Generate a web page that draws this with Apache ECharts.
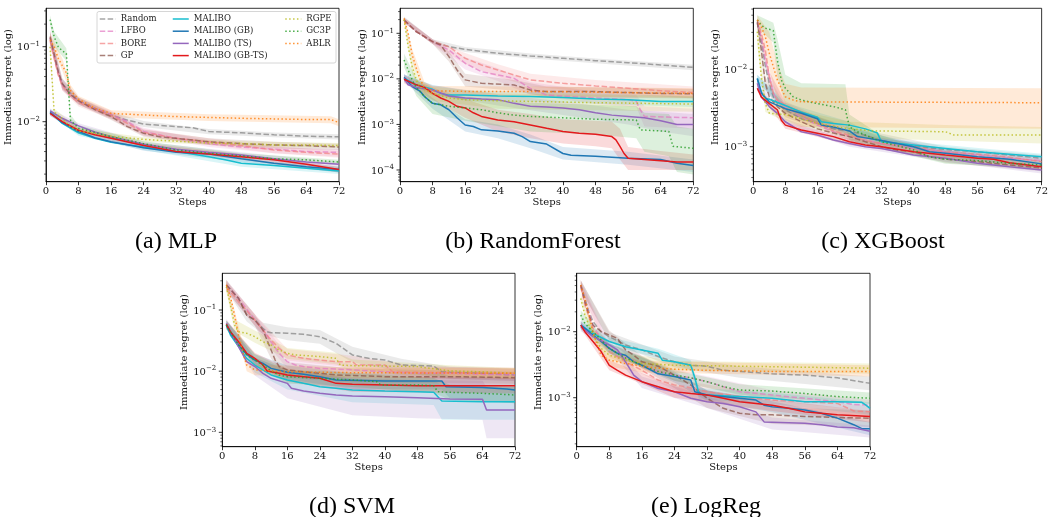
<!DOCTYPE html>
<html>
<head>
<meta charset="utf-8">
<script src="https://cdn.jsdelivr.net/npm/echarts@6/dist/echarts.min.js"></script>
<style>
  html, body { margin: 0; padding: 0; background: #ffffff; }
  #chart { width: 1051px; height: 517px; }
</style>
</head>
<body>
<div id="chart"></div>
<script>
// ---------------------------------------------------------------
// Methods, in legend order
// ---------------------------------------------------------------
const METHODS = ['Random', 'LFBO', 'BORE', 'GP', 'MALIBO', 'MALIBO (GB)', 'MALIBO (TS)', 'MALIBO (GB-TS)', 'RGPE', 'GC3P', 'ABLR'];

// Y-axis limits of each panel (immediate regret, log scale)
const YLIM_MLP = [0.001585, 0.325];
const YLIM_RF = [0.0000553, 0.354];
const YLIM_XGB = [0.000353, 0.0614];
const YLIM_SVM = [0.000582, 0.398];
const YLIM_LOGREG = [0.000181, 0.0767];

// ---------------------------------------------------------------
// (a) MLP : mean regret [step, value] and band [step, low, high]
// ---------------------------------------------------------------
const MLP_MEAN = {
  'Random': [[1,0.13],[2,0.075],[3,0.045],[4,0.032],[6,0.024],[8,0.019],[12,0.0151],[16,0.0122],[20,0.0105],[24,0.0093],[32,0.0086],[36,0.0083],[40,0.0074],[48,0.0071],[56,0.0067],[64,0.0064],[72,0.0063]],
  'LFBO': [[1,0.13],[2,0.078],[3,0.045],[4,0.031],[6,0.023],[8,0.019],[12,0.015],[16,0.0125],[20,0.01],[24,0.0074],[32,0.006],[40,0.0051],[48,0.0046],[56,0.0043],[64,0.004],[72,0.0039]],
  'BORE': [[1,0.12],[2,0.07],[3,0.042],[4,0.03],[6,0.022],[8,0.018],[12,0.0145],[16,0.012],[20,0.0095],[24,0.0072],[32,0.006],[40,0.0054],[48,0.0048],[56,0.0042],[64,0.0039],[72,0.0037]],
  'GP': [[1,0.136],[2,0.08],[3,0.047],[4,0.032],[6,0.023],[8,0.019],[12,0.0145],[16,0.0117],[20,0.0086],[24,0.007],[28,0.0063],[32,0.006],[40,0.0054],[48,0.0051],[56,0.0049],[64,0.0048],[72,0.0046]],
  'MALIBO': [[1,0.0136],[4,0.0095],[8,0.0071],[12,0.006],[16,0.0053],[24,0.0046],[32,0.004],[40,0.0034],[44,0.0031],[48,0.0028],[56,0.0026],[64,0.0024],[72,0.0022]],
  'MALIBO (GB)': [[1,0.0132],[4,0.0097],[8,0.0074],[12,0.0061],[16,0.0054],[24,0.0045],[32,0.0039],[40,0.0037],[48,0.0032],[56,0.0028],[64,0.0025],[72,0.0023]],
  'MALIBO (TS)': [[1,0.0139],[4,0.0111],[8,0.0088],[12,0.0073],[16,0.0063],[24,0.005],[32,0.0043],[40,0.0039],[48,0.0036],[56,0.0032],[64,0.0029],[72,0.0027]],
  'MALIBO (GB-TS)': [[1,0.0129],[4,0.01],[8,0.0077],[12,0.0067],[16,0.006],[24,0.0048],[32,0.004],[40,0.0037],[48,0.0034],[56,0.0031],[64,0.0027],[72,0.0023]],
  'RGPE': [[1,0.1],[2,0.0135],[4,0.011],[6,0.0085],[8,0.0075],[12,0.007],[16,0.0064],[24,0.0058],[32,0.0055],[40,0.0052],[48,0.0051],[56,0.0049],[64,0.0049],[72,0.0048]],
  'GC3P': [[1,0.23],[2,0.136],[3,0.1],[4,0.088],[5,0.0815],[6,0.0105],[8,0.0082],[12,0.0072],[16,0.0063],[24,0.0051],[32,0.0042],[40,0.0038],[48,0.0035],[56,0.0032],[64,0.0031],[72,0.0029]],
  'ABLR': [[1,0.123],[2,0.1],[3,0.07],[4,0.056],[5,0.045],[6,0.026],[8,0.02],[12,0.0151],[16,0.0129],[24,0.0123],[32,0.0117],[40,0.0114],[48,0.0111],[56,0.0109],[64,0.0107],[70,0.0107],[72,0.0097]]
};
const MLP_BAND = {
  'Random': [[1,0.11,0.16],[4,0.027,0.038],[8,0.017,0.021],[16,0.011,0.0135],[24,0.0085,0.0102],[40,0.0068,0.008],[56,0.0062,0.0072],[72,0.0058,0.0068]],
  'LFBO': [[1,0.1,0.17],[4,0.026,0.037],[8,0.017,0.021],[16,0.011,0.014],[24,0.0066,0.0083],[40,0.0046,0.0056],[56,0.0038,0.0046],[72,0.0034,0.0043]],
  'BORE': [[1,0.1,0.15],[4,0.026,0.035],[8,0.016,0.02],[16,0.0108,0.0134],[24,0.0065,0.008],[40,0.0049,0.006],[56,0.0038,0.0047],[72,0.0033,0.0041]],
  'GP': [[1,0.115,0.16],[4,0.027,0.037],[8,0.017,0.021],[16,0.0105,0.013],[24,0.0063,0.0078],[40,0.0049,0.006],[56,0.0044,0.0054],[72,0.0042,0.0051]],
  'MALIBO': [[1,0.0125,0.0148],[8,0.0065,0.0078],[24,0.0042,0.005],[48,0.0025,0.0031],[72,0.002,0.0025]],
  'MALIBO (GB)': [[1,0.012,0.0145],[8,0.0068,0.008],[24,0.0041,0.0049],[48,0.0029,0.0035],[72,0.0021,0.0025]],
  'MALIBO (TS)': [[1,0.0128,0.015],[8,0.0081,0.0095],[24,0.0046,0.0054],[48,0.0033,0.0039],[72,0.0025,0.0029]],
  'MALIBO (GB-TS)': [[1,0.012,0.014],[8,0.0071,0.0083],[24,0.0044,0.0052],[48,0.0031,0.0037],[72,0.0021,0.0025]],
  'RGPE': [[1,0.08,0.12],[2,0.012,0.015],[8,0.0069,0.0081],[24,0.0054,0.0062],[48,0.0047,0.0055],[72,0.0045,0.0052]],
  'GC3P': [[1,0.2,0.26],[2,0.1,0.16],[5,0.065,0.095],[6,0.0095,0.0125],[8,0.0075,0.009],[24,0.0047,0.0055],[48,0.0032,0.0038],[72,0.0027,0.0031]],
  'ABLR': [[1,0.11,0.15],[4,0.048,0.07],[6,0.024,0.031],[8,0.018,0.022],[16,0.0115,0.0142],[40,0.0102,0.0126],[70,0.0095,0.0118],[72,0.0087,0.0108]]
};

// ---------------------------------------------------------------
// (b) RandomForest
// ---------------------------------------------------------------
const RF_MEAN = {
  'Random': [[1,0.196],[4,0.109],[8,0.0656],[12,0.0509],[16,0.0445],[24,0.0364],[32,0.0318],[40,0.0283],[48,0.0251],[56,0.0227],[64,0.0202],[72,0.0179]],
  'LFBO': [[1,0.196],[4,0.109],[8,0.0656],[12,0.043],[16,0.022],[20,0.0144],[24,0.0122],[28,0.0103],[32,0.0062],[36,0.0044],[48,0.0038],[56,0.0035],[58,0.0032],[59,0.0021],[60,0.0015],[72,0.0014]],
  'BORE': [[1,0.196],[4,0.109],[8,0.0656],[12,0.0509],[16,0.0283],[20,0.0202],[24,0.0157],[28,0.0122],[32,0.0095],[40,0.008],[48,0.007],[56,0.0062],[64,0.0055],[72,0.005]],
  'GP': [[1,0.196],[4,0.109],[8,0.0656],[10,0.0555],[12,0.0308],[14,0.0157],[16,0.0095],[20,0.008],[28,0.00735],[32,0.0057],[36,0.00525],[48,0.00525],[56,0.005],[64,0.0048],[72,0.0047]],
  'MALIBO': [[1,0.0103],[4,0.0074],[8,0.0059],[10,0.0048],[12,0.0044],[16,0.0044],[24,0.0042],[32,0.0041],[40,0.0039],[48,0.0036],[56,0.0035],[64,0.0032],[72,0.0032]],
  'MALIBO (GB)': [[1,0.0108],[3,0.0068],[5,0.0053],[6,0.0041],[8,0.0029],[10,0.0027],[12,0.0021],[14,0.0014],[16,0.00097],[18,0.0009],[20,0.00076],[24,0.00072],[28,0.00064],[30,0.00054],[32,0.00042],[36,0.00037],[40,0.00023],[42,0.00021],[48,0.0002],[56,0.00018],[64,0.00017],[68,0.00014],[72,0.000125]],
  'MALIBO (TS)': [[1,0.0103],[2,0.0074],[4,0.0065],[8,0.0057],[12,0.0042],[16,0.0038],[20,0.0036],[24,0.0035],[28,0.0029],[32,0.0025],[36,0.0024],[40,0.0023],[44,0.0021],[48,0.0018],[52,0.0016],[56,0.0015],[60,0.0014],[64,0.0012],[68,0.001],[72,0.001]],
  'MALIBO (GB-TS)': [[1,0.0098],[4,0.0074],[6,0.0065],[8,0.0048],[10,0.0038],[12,0.0032],[14,0.0025],[16,0.0023],[18,0.0018],[20,0.0015],[24,0.00125],[28,0.00115],[32,0.00097],[36,0.00082],[40,0.0007],[44,0.00064],[48,0.00061],[52,0.00054],[53,0.00046],[54,0.00033],[55,0.00023],[56,0.00018],[60,0.00017],[64,0.00016],[68,0.00015],[72,0.00015]],
  'RGPE': [[1,0.2],[2,0.051],[3,0.0185],[4,0.0095],[5,0.0065],[8,0.0048],[12,0.0038],[16,0.0035],[24,0.0033],[32,0.0032],[48,0.003],[72,0.0028]],
  'GC3P': [[1,0.026],[2,0.0157],[3,0.0095],[4,0.0065],[6,0.0041],[8,0.0029],[12,0.0025],[16,0.0023],[20,0.0021],[24,0.0018],[28,0.0016],[32,0.0015],[40,0.0014],[48,0.0013],[58,0.00125],[59,0.00076],[66,0.0007],[67,0.00033],[72,0.0003]],
  'ABLR': [[1,0.213],[2,0.1],[3,0.0335],[4,0.0171],[5,0.0095],[6,0.0065],[8,0.0055],[16,0.0053],[32,0.0053],[72,0.0048]]
};
const RF_BAND = {
  'Random': [[1,0.17,0.23],[8,0.058,0.074],[16,0.039,0.05],[32,0.028,0.036],[48,0.022,0.028],[72,0.0155,0.0205]],
  'LFBO': [[1,0.17,0.22],[8,0.058,0.074],[16,0.016,0.03],[24,0.009,0.017],[32,0.0045,0.0085],[48,0.0028,0.0052],[58,0.0024,0.0045],[60,0.0009,0.0025],[72,0.0008,0.0022]],
  'BORE': [[1,0.17,0.22],[8,0.058,0.074],[16,0.021,0.037],[24,0.011,0.021],[32,0.0068,0.013],[48,0.005,0.0095],[72,0.0037,0.0068]],
  'GP': [[1,0.17,0.22],[8,0.058,0.074],[12,0.024,0.04],[16,0.0068,0.013],[28,0.0055,0.0095],[36,0.004,0.0068],[72,0.0037,0.006]],
  'MALIBO': [[1,0.0085,0.0125],[8,0.0047,0.0073],[16,0.0034,0.0056],[40,0.003,0.005],[72,0.0024,0.0041]],
  'MALIBO (GB)': [[1,0.009,0.013],[8,0.0022,0.0038],[16,0.0007,0.0013],[24,0.0005,0.001],[32,0.0003,0.0006],[40,0.00017,0.00032],[56,0.00013,0.00025],[72,0.00009,0.00017]],
  'MALIBO (TS)': [[1,0.0085,0.0125],[8,0.0044,0.0072],[24,0.0026,0.0046],[40,0.0016,0.0032],[56,0.001,0.0021],[64,0.0007,0.0019],[72,0.00055,0.0017]],
  'MALIBO (GB-TS)': [[1,0.008,0.012],[8,0.0035,0.0065],[16,0.0014,0.0036],[24,0.0007,0.0021],[32,0.0005,0.0017],[40,0.00038,0.0013],[48,0.00033,0.0012],[52,0.0003,0.00115],[54,0.00017,0.0008],[56,0.0001,0.00032],[64,0.0001,0.00026],[72,0.0001,0.00022]],
  'RGPE': [[1,0.17,0.23],[3,0.013,0.027],[5,0.0045,0.009],[8,0.0033,0.0068],[24,0.0022,0.0048],[72,0.0019,0.0042]],
  'GC3P': [[1,0.018,0.036],[4,0.0042,0.01],[8,0.0017,0.0048],[16,0.0012,0.004],[32,0.0007,0.003],[48,0.0006,0.0027],[58,0.0005,0.0025],[60,0.00025,0.0018],[66,0.0002,0.0017],[68,0.00009,0.0009],[72,0.00008,0.0008]],
  'ABLR': [[1,0.19,0.24],[3,0.025,0.045],[6,0.005,0.0085],[8,0.0043,0.007],[32,0.0042,0.0068],[72,0.0038,0.0062]]
};

// ---------------------------------------------------------------
// (c) XGBoost
// ---------------------------------------------------------------
const XGB_MEAN = {
  'Random': [[1,0.0394],[2,0.0239],[3,0.0108],[4,0.0066],[5,0.0044],[6,0.0036],[8,0.003],[12,0.0023],[16,0.002],[20,0.0017],[24,0.0016],[28,0.0014],[32,0.0012],[36,0.0011],[40,0.00102],[48,0.00092],[56,0.00086],[64,0.00078],[72,0.00071]],
  'LFBO': [[1,0.0394],[2,0.0264],[3,0.0132],[4,0.008],[5,0.0049],[6,0.004],[8,0.0033],[12,0.0024],[16,0.0019],[20,0.00156],[24,0.00135],[28,0.00122],[32,0.0011],[40,0.00095],[48,0.00086],[56,0.00078],[64,0.00071],[72,0.00066]],
  'BORE': [[1,0.0435],[2,0.0292],[3,0.0178],[4,0.008],[5,0.0049],[6,0.004],[8,0.0035],[12,0.0026],[16,0.002],[20,0.0016],[24,0.0014],[28,0.0012],[32,0.0011],[40,0.001],[48,0.00086],[56,0.0008],[64,0.00073],[72,0.00064]],
  'GP': [[1,0.0413],[2,0.0178],[3,0.0066],[4,0.0044],[6,0.0033],[8,0.0027],[12,0.0021],[16,0.0017],[20,0.0015],[24,0.00135],[28,0.00116],[32,0.001],[36,0.0009],[40,0.00086],[44,0.00074],[48,0.00069],[56,0.00064],[64,0.00058],[72,0.00053]],
  'MALIBO': [[1,0.0076],[2,0.0051],[3,0.0042],[4,0.0041],[8,0.0034],[12,0.0028],[16,0.0024],[17,0.0021],[20,0.002],[24,0.0019],[28,0.0017],[31,0.0015],[32,0.00116],[40,0.00105],[48,0.00095],[56,0.00086],[64,0.0008],[72,0.00074]],
  'MALIBO (GB)': [[1,0.0076],[2,0.0049],[4,0.0038],[8,0.0031],[12,0.0027],[16,0.0023],[17,0.0019],[20,0.0018],[24,0.0016],[26,0.00135],[28,0.0013],[32,0.0012],[40,0.001],[44,0.00086],[48,0.00082],[56,0.00074],[64,0.00069],[72,0.0006]],
  'MALIBO (TS)': [[1,0.0066],[2,0.0044],[4,0.0033],[6,0.0027],[8,0.0021],[12,0.00156],[16,0.00142],[20,0.00122],[24,0.0011],[28,0.001],[32,0.00095],[40,0.00078],[48,0.00071],[56,0.00061],[64,0.00055],[72,0.0005]],
  'MALIBO (GB-TS)': [[1,0.0057],[2,0.0044],[4,0.0036],[6,0.003],[7,0.0022],[8,0.0019],[12,0.00164],[16,0.00149],[20,0.00135],[24,0.00116],[28,0.00105],[32,0.001],[40,0.00086],[48,0.00078],[56,0.00071],[60,0.00069],[64,0.00062],[72,0.00055]],
  'RGPE': [[1,0.0307],[2,0.008],[3,0.0036],[4,0.0027],[8,0.0026],[16,0.002],[24,0.0017],[30,0.0016],[48,0.00156],[50,0.00142],[72,0.00142]],
  'GC3P': [[1,0.0435],[2,0.0374],[3,0.0339],[4,0.0329],[5,0.0316],[6,0.0132],[7,0.0073],[8,0.0057],[10,0.0044],[12,0.004],[16,0.0036],[20,0.0033],[23,0.003],[24,0.0018],[26,0.00156],[32,0.00116],[40,0.00091],[44,0.00074],[48,0.00069],[56,0.00066],[64,0.00061],[72,0.00058]],
  'ABLR': [[1,0.0435],[2,0.0356],[3,0.0264],[4,0.0161],[5,0.0108],[6,0.0073],[8,0.0044],[10,0.004],[12,0.0038],[72,0.0037]]
};
const XGB_BAND = {
  'Random': [[1,0.035,0.044],[4,0.0055,0.0078],[8,0.0027,0.0034],[24,0.0014,0.0018],[48,0.00083,0.001],[72,0.00064,0.00078]],
  'LFBO': [[1,0.035,0.044],[4,0.0068,0.0094],[8,0.0029,0.0037],[24,0.0012,0.0015],[48,0.00078,0.00095],[72,0.0006,0.00073]],
  'BORE': [[1,0.039,0.048],[4,0.0068,0.0094],[8,0.0031,0.0039],[24,0.00125,0.00155],[48,0.00078,0.00095],[72,0.00058,0.0007]],
  'GP': [[1,0.037,0.046],[3,0.0055,0.008],[8,0.0024,0.003],[24,0.0012,0.0015],[48,0.00062,0.00076],[72,0.00048,0.00058]],
  'MALIBO': [[1,0.0068,0.0085],[8,0.0031,0.0037],[24,0.0017,0.0021],[32,0.00105,0.00128],[48,0.00086,0.00105],[72,0.00067,0.00081]],
  'MALIBO (GB)': [[1,0.0068,0.0085],[8,0.0028,0.0034],[24,0.00145,0.00175],[48,0.00074,0.0009],[72,0.00054,0.00066]],
  'MALIBO (TS)': [[1,0.006,0.0073],[8,0.0019,0.0023],[24,0.001,0.0012],[48,0.00064,0.00078],[72,0.00045,0.00055]],
  'MALIBO (GB-TS)': [[1,0.0052,0.0063],[8,0.0017,0.0021],[24,0.00105,0.00128],[48,0.0007,0.00086],[72,0.0005,0.0006]],
  'RGPE': [[1,0.02,0.04],[3,0.0028,0.0046],[8,0.0021,0.0032],[24,0.0013,0.0021],[48,0.0012,0.0019],[72,0.0011,0.0018]],
  'GC3P': [[1,0.035,0.05],[5,0.022,0.04],[6,0.008,0.025],[8,0.0035,0.0085],[12,0.0022,0.0066],[23,0.0019,0.0064],[24,0.0012,0.0026],[32,0.00095,0.0014],[48,0.0006,0.00078],[72,0.00052,0.00064]],
  'ABLR': [[1,0.035,0.05],[4,0.01,0.03],[6,0.004,0.012],[8,0.0022,0.0065],[12,0.0018,0.0058],[72,0.0017,0.0057]]
};

// ---------------------------------------------------------------
// (d) SVM
// ---------------------------------------------------------------
const SVM_MEAN = {
  'Random': [[1,0.256],[4,0.155],[6,0.0828],[8,0.0687],[10,0.0501],[11,0.0442],[12,0.0426],[16,0.0416],[20,0.04],[24,0.0366],[28,0.0285],[32,0.0184],[36,0.0162],[40,0.0152],[44,0.0126],[52,0.0121],[54,0.00975],[56,0.00957],[64,0.00922],[72,0.00866]],
  'LFBO': [[1,0.256],[4,0.155],[8,0.0687],[10,0.0471],[12,0.0303],[14,0.0196],[16,0.0143],[18,0.0126],[20,0.0119],[24,0.0111],[28,0.0108],[32,0.0105],[40,0.00975],[48,0.00922],[56,0.00922],[64,0.00887],[72,0.00866]],
  'BORE': [[1,0.24],[4,0.137],[8,0.0687],[10,0.0471],[12,0.0323],[14,0.0236],[16,0.0184],[20,0.0162],[24,0.0152],[28,0.0143],[32,0.0143],[33,0.0126],[40,0.0126],[42,0.00975],[48,0.00957],[72,0.00922]],
  'GP': [[1,0.256],[4,0.155],[6,0.0828],[8,0.0687],[10,0.0471],[11,0.0323],[12,0.0222],[13,0.0152],[14,0.0119],[16,0.0105],[20,0.00975],[24,0.00922],[28,0.00866],[40,0.00813],[56,0.00813],[72,0.00783]],
  'MALIBO': [[1,0.0569],[2,0.039],[4,0.0252],[6,0.0162],[8,0.0126],[12,0.00866],[16,0.00718],[20,0.00632],[24,0.00558],[28,0.00524],[32,0.00492],[40,0.00474],[48,0.00462],[52,0.00451],[54,0.00325],[64,0.00317],[72,0.00317]],
  'MALIBO (GB)': [[1,0.0569],[2,0.0416],[4,0.0268],[6,0.0188],[8,0.0152],[10,0.0134],[12,0.0111],[16,0.00957],[20,0.00887],[24,0.00813],[28,0.00718],[40,0.0069],[54,0.0069],[55,0.00558],[64,0.00538],[70,0.00511],[72,0.00492]],
  'MALIBO (TS)': [[1,0.0605],[2,0.0442],[4,0.0252],[6,0.0143],[8,0.0119],[10,0.00922],[12,0.00764],[16,0.00632],[17,0.00524],[20,0.00474],[24,0.00434],[28,0.00408],[32,0.00393],[40,0.00383],[48,0.00369],[56,0.00351],[64,0.00347],[65,0.00232],[72,0.00232]],
  'MALIBO (GB-TS)': [[1,0.0583],[2,0.0442],[4,0.0303],[6,0.0196],[8,0.0162],[10,0.0126],[11,0.0101],[14,0.00922],[16,0.00866],[20,0.00813],[24,0.00764],[28,0.00632],[32,0.0061],[40,0.00594],[48,0.00579],[72,0.00579]],
  'RGPE': [[1,0.24],[2,0.121],[3,0.0569],[4,0.0442],[6,0.0416],[8,0.0366],[10,0.0303],[12,0.0268],[14,0.0222],[16,0.0196],[18,0.0184],[24,0.0173],[28,0.0162],[29,0.0126],[32,0.0123],[48,0.0119],[56,0.0101],[64,0.00975],[72,0.00922]],
  'GC3P': [[1,0.0569],[2,0.0442],[4,0.0268],[6,0.0184],[8,0.0152],[10,0.0126],[12,0.0101],[14,0.00866],[16,0.00813],[24,0.00764],[32,0.00718],[38,0.00674],[39,0.00594],[48,0.00594],[52,0.00579],[53,0.00462],[56,0.00451],[64,0.00434],[72,0.00408]],
  'ABLR': [[1,0.256],[2,0.165],[3,0.0828],[4,0.039],[5,0.0208],[6,0.0126],[8,0.0105],[16,0.00975],[32,0.00944],[72,0.00922]]
};
const SVM_BAND = {
  'Random': [[1,0.21,0.31],[6,0.065,0.1],[10,0.04,0.062],[16,0.032,0.052],[24,0.028,0.047],[32,0.014,0.025],[44,0.0098,0.016],[56,0.0075,0.0118],[72,0.0069,0.011]],
  'LFBO': [[1,0.21,0.31],[8,0.055,0.085],[12,0.023,0.04],[16,0.011,0.018],[32,0.0083,0.0132],[72,0.0069,0.0108]],
  'BORE': [[1,0.2,0.29],[8,0.055,0.085],[16,0.015,0.023],[32,0.0115,0.0178],[48,0.0077,0.012],[72,0.0074,0.0115]],
  'GP': [[1,0.21,0.31],[8,0.055,0.085],[12,0.016,0.03],[16,0.0078,0.014],[32,0.0065,0.011],[72,0.0062,0.0098]],
  'MALIBO': [[1,0.049,0.067],[8,0.0095,0.0165],[16,0.005,0.0103],[32,0.0031,0.0075],[52,0.0028,0.007],[54,0.0016,0.006],[72,0.0016,0.006]],
  'MALIBO (GB)': [[1,0.049,0.067],[8,0.012,0.019],[16,0.0074,0.0124],[32,0.0051,0.0092],[54,0.005,0.0092],[56,0.0036,0.0082],[72,0.003,0.0078]],
  'MALIBO (TS)': [[1,0.051,0.071],[8,0.0085,0.0165],[16,0.0036,0.0105],[32,0.0019,0.0075],[48,0.0017,0.0072],[64,0.0016,0.007],[65,0.0008,0.0055],[72,0.0008,0.0055]],
  'MALIBO (GB-TS)': [[1,0.05,0.068],[8,0.013,0.02],[16,0.0068,0.011],[32,0.0046,0.008],[72,0.0043,0.0078]],
  'RGPE': [[1,0.2,0.29],[3,0.045,0.07],[8,0.029,0.046],[16,0.016,0.024],[28,0.013,0.02],[32,0.0098,0.0155],[56,0.0082,0.0125],[72,0.0075,0.0113]],
  'GC3P': [[1,0.048,0.067],[8,0.012,0.019],[16,0.0063,0.0105],[32,0.0055,0.0094],[52,0.0044,0.0077],[56,0.0034,0.006],[72,0.003,0.0055]],
  'ABLR': [[1,0.21,0.31],[3,0.065,0.1],[6,0.01,0.016],[8,0.0086,0.0128],[32,0.0078,0.0115],[72,0.0076,0.0112]]
};

// ---------------------------------------------------------------
// (e) LogReg
// ---------------------------------------------------------------
const LOGREG_MEAN = {
  'Random': [[1,0.0509],[2,0.032],[3,0.0201],[4,0.0142],[6,0.01],[8,0.0084],[12,0.0063],[16,0.0053],[20,0.0042],[24,0.0035],[28,0.0031],[32,0.003],[36,0.0026],[40,0.0025],[48,0.0023],[56,0.0022],[64,0.002],[72,0.00165]],
  'LFBO': [[1,0.0509],[2,0.0285],[4,0.0126],[6,0.0079],[8,0.0056],[12,0.0042],[16,0.0031],[20,0.0025],[24,0.0022],[28,0.002],[32,0.00175],[36,0.00147],[40,0.00123],[48,0.0011],[56,0.00098],[64,0.00087],[68,0.00079],[72,0.00077]],
  'BORE': [[1,0.0481],[2,0.0253],[4,0.0112],[6,0.0079],[8,0.005],[12,0.0035],[16,0.0026],[20,0.00185],[24,0.00156],[28,0.00142],[32,0.00123],[40,0.00104],[48,0.00092],[56,0.00087],[64,0.00082],[68,0.00063],[72,0.00061]],
  'GP': [[1,0.0509],[2,0.0285],[3,0.0179],[4,0.0126],[6,0.01],[8,0.0089],[10,0.0079],[12,0.0053],[14,0.0044],[16,0.0035],[20,0.003],[24,0.0022],[28,0.00156],[30,0.00123],[32,0.00098],[36,0.00069],[40,0.00058],[44,0.00055],[48,0.00055],[56,0.00052],[64,0.0005],[72,0.00049]],
  'MALIBO': [[1,0.0126],[4,0.0094],[8,0.0071],[12,0.0059],[16,0.0053],[20,0.0047],[21,0.0037],[24,0.0035],[28,0.0031],[29,0.002],[30,0.00116],[32,0.0011],[40,0.00104],[48,0.00098],[56,0.00087],[64,0.00087],[70,0.00085],[71,0.00077],[72,0.00069]],
  'MALIBO (GB)': [[1,0.0126],[4,0.0089],[6,0.0071],[8,0.0056],[10,0.0047],[12,0.0044],[14,0.0035],[16,0.0031],[20,0.0023],[24,0.0021],[28,0.00185],[29,0.00123],[32,0.0011],[40,0.00098],[44,0.00092],[46,0.00077],[48,0.00073],[52,0.00069],[56,0.00065],[60,0.00058],[64,0.00049],[68,0.00039],[70,0.00034],[72,0.00034]],
  'MALIBO (TS)': [[1,0.0119],[4,0.0084],[8,0.0063],[10,0.0053],[12,0.0035],[14,0.0022],[16,0.00175],[20,0.00138],[24,0.00123],[28,0.00098],[32,0.00087],[36,0.00082],[40,0.00073],[44,0.00061],[46,0.00043],[56,0.00041],[60,0.00039],[64,0.00036],[68,0.00035],[72,0.00031]],
  'MALIBO (GB-TS)': [[1,0.0126],[2,0.01],[4,0.0071],[6,0.005],[8,0.0031],[10,0.0026],[12,0.0022],[16,0.00175],[20,0.00147],[24,0.00123],[28,0.00116],[32,0.0011],[36,0.00098],[40,0.00087],[44,0.00082],[48,0.00077],[52,0.00069],[56,0.00061],[60,0.00058],[64,0.00055],[72,0.00052]],
  'RGPE': [[1,0.032],[2,0.0179],[4,0.0089],[6,0.0056],[8,0.0044],[12,0.0037],[16,0.0033],[20,0.0032],[24,0.0031],[32,0.00305],[48,0.00295],[72,0.0028]],
  'GC3P': [[1,0.0179],[2,0.0134],[4,0.01],[6,0.0075],[8,0.0056],[10,0.0047],[12,0.004],[16,0.0031],[20,0.0025],[24,0.0022],[28,0.002],[32,0.00175],[36,0.00147],[40,0.00131],[48,0.00126],[56,0.00116],[64,0.00104],[72,0.00098]],
  'ABLR': [[1,0.0509],[2,0.032],[3,0.0179],[4,0.01],[5,0.0063],[6,0.0044],[8,0.0037],[12,0.0033],[16,0.003],[20,0.0028],[24,0.0027],[32,0.0026],[48,0.0025],[72,0.0025]]
};
const LOGREG_BAND = {
  'Random': [[1,0.043,0.06],[8,0.007,0.0098],[24,0.0029,0.0042],[40,0.002,0.003],[72,0.0013,0.0021]],
  'LFBO': [[1,0.043,0.06],[8,0.0046,0.0067],[24,0.0018,0.0027],[48,0.0009,0.0013],[72,0.00063,0.00093]],
  'BORE': [[1,0.04,0.057],[8,0.0041,0.006],[24,0.0013,0.0019],[48,0.00075,0.0011],[72,0.0005,0.00074]],
  'GP': [[1,0.043,0.06],[8,0.0074,0.0104],[16,0.0028,0.0043],[32,0.0007,0.0013],[48,0.0004,0.00072],[72,0.00036,0.00064]],
  'MALIBO': [[1,0.011,0.0145],[8,0.0061,0.0083],[20,0.004,0.0055],[28,0.0026,0.0037],[30,0.00095,0.0014],[48,0.0008,0.0012],[72,0.00055,0.00085]],
  'MALIBO (GB)': [[1,0.011,0.0145],[8,0.0047,0.0066],[24,0.0017,0.0025],[32,0.0009,0.0013],[48,0.0006,0.00088],[72,0.00027,0.00043]],
  'MALIBO (TS)': [[1,0.0102,0.0138],[8,0.0053,0.0074],[16,0.0014,0.0021],[32,0.0007,0.00105],[48,0.00033,0.0005],[72,0.00025,0.00038]],
  'MALIBO (GB-TS)': [[1,0.011,0.0145],[8,0.0026,0.0037],[24,0.001,0.0015],[48,0.00063,0.00093],[72,0.00042,0.00063]],
  'RGPE': [[1,0.027,0.038],[4,0.0075,0.0105],[8,0.0037,0.0052],[24,0.0026,0.0036],[72,0.0023,0.0033]],
  'GC3P': [[1,0.015,0.021],[8,0.0047,0.0066],[24,0.0018,0.0026],[40,0.0011,0.0016],[72,0.0008,0.0012]],
  'ABLR': [[1,0.043,0.06],[4,0.0085,0.0118],[8,0.003,0.0045],[16,0.0024,0.0036],[72,0.0021,0.0031]]
};

// ---------------------------------------------------------------
// Styling
// ---------------------------------------------------------------
const DASHED = [5.5, 2.4];
const DOTTED = [1.5, 2.4];
const METHOD_STYLE = {
  'Random':         { color: '#7f7f7f', dash: DASHED, opacity: 0.7 },
  'LFBO':           { color: '#e377c2', dash: DASHED, opacity: 0.7 },
  'BORE':           { color: '#f27f7f', dash: DASHED, opacity: 0.7 },
  'GP':             { color: '#8c564b', dash: DASHED, opacity: 0.75 },
  'MALIBO':         { color: '#17becf', dash: 'solid', opacity: 1 },
  'MALIBO (GB)':    { color: '#1f77b4', dash: 'solid', opacity: 1 },
  'MALIBO (TS)':    { color: '#9467bd', dash: 'solid', opacity: 1 },
  'MALIBO (GB-TS)': { color: '#e3191c', dash: 'solid', opacity: 1 },
  'RGPE':           { color: '#bcbd22', dash: DOTTED, opacity: 0.85 },
  'GC3P':           { color: '#2ca02c', dash: DOTTED, opacity: 0.85 },
  'ABLR':           { color: '#ff7f0e', dash: DOTTED, opacity: 0.85 }
};
const SERIF = 'DejaVu Serif';
const INK = '#111111';

const PANELS = [
  { mean: MLP_MEAN,    band: MLP_BAND,    ylim: YLIM_MLP,    caption: '(a) MLP',          box: { left: 46,    top: 8.3,   width: 293,   height: 173.4 }, cap: [176, 242] },
  { mean: RF_MEAN,     band: RF_BAND,     ylim: YLIM_RF,     caption: '(b) RandomForest', box: { left: 400,   top: 8.3,   width: 293.3, height: 173.4 }, cap: [533, 242] },
  { mean: XGB_MEAN,    band: XGB_BAND,    ylim: YLIM_XGB,    caption: '(c) XGBoost',      box: { left: 753.3, top: 8.3,   width: 293,   height: 173.4 }, cap: [883, 242] },
  { mean: SVM_MEAN,    band: SVM_BAND,    ylim: YLIM_SVM,    caption: '(d) SVM',          box: { left: 222.3, top: 273.3, width: 292.7, height: 173.4 }, cap: [352, 506.5] },
  { mean: LOGREG_MEAN, band: LOGREG_BAND, ylim: YLIM_LOGREG, caption: '(e) LogReg',       box: { left: 576.7, top: 273.3, width: 293.3, height: 173.4 }, cap: [706, 506.5] }
];

// Labels "10^k" on the log axis; every other tick value gets no label
function powerLabel(v) {
  const lg = Math.log10(v);
  const e = Math.round(lg);
  if (Math.abs(lg - e) > 1e-6) return '';
  const exp = e < 0 ? '\u2212' + (-e) : String(e);
  return '{b|10}{s|' + exp + '}';
}

// Major (1×10^k) and minor (2..9×10^k) tick values inside a log range
function logTickValues(lim) {
  const out = [];
  const e0 = Math.floor(Math.log10(lim[0]));
  const e1 = Math.ceil(Math.log10(lim[1]));
  for (let e = e0; e <= e1; e++) {
    for (let k = 1; k <= 9; k++) {
      const v = parseFloat((k * Math.pow(10, e)).toPrecision(6));
      if (v >= lim[0] && v <= lim[1]) out.push([0, v, k === 1 ? 1 : 0]);
    }
  }
  return out;
}

const grids = [], xAxes = [], yAxes = [], series = [], graphics = [];

PANELS.forEach(function (p, i) {
  grids.push(Object.assign({ show: true, borderColor: '#000', borderWidth: 0.8, backgroundColor: 'transparent' }, p.box));

  xAxes.push({
    type: 'value', gridIndex: i, min: 0, max: 72, interval: 8,
    axisLine: { show: true, lineStyle: { color: '#000', width: 0.8 } },
    axisTick: { show: true, length: 3.5, lineStyle: { color: '#000', width: 0.8 } },
    splitLine: { show: false },
    axisLabel: { fontFamily: SERIF, fontSize: 10, color: INK, margin: 5 },
    name: 'Steps', nameLocation: 'middle', nameGap: 15,
    nameTextStyle: { fontFamily: SERIF, fontSize: 10, color: INK }
  });

  yAxes.push({
    type: 'log', logBase: 10, gridIndex: i, min: p.ylim[0], max: p.ylim[1],
    axisLine: { show: true, lineStyle: { color: '#000', width: 0.8 } },
    axisTick: { show: false },
    minorTick: { show: false },
    splitLine: { show: false },
    axisLabel: {
      formatter: powerLabel, margin: 6,
      rich: {
        b: { fontFamily: SERIF, fontSize: 10, color: INK, lineHeight: 12, verticalAlign: 'bottom' },
        s: { fontFamily: SERIF, fontSize: 7, color: INK, verticalAlign: 'top' }
      }
    },
    name: 'Immediate regret (log)', nameLocation: 'middle', nameGap: 28.5,
    nameTextStyle: { fontFamily: SERIF, fontSize: 10, color: INK, padding: [0, 0, 0, 16] }
  });

  // Confidence bands first, so every mean line sits above them
  METHODS.forEach(function (m) {
    const rows = p.band[m];
    const st = METHOD_STYLE[m];
    series.push({
      type: 'custom', xAxisIndex: i, yAxisIndex: i, silent: true, clip: true, z: 1,
      data: [[rows[0][0], rows[0][1]]],
      renderItem: function (params, api) {
        const upper = rows.map(function (r) { return api.coord([r[0], r[2]]); });
        const lower = rows.slice().reverse().map(function (r) { return api.coord([r[0], r[1]]); });
        return { type: 'polygon', shape: { points: upper.concat(lower) }, style: { fill: st.color, opacity: 0.16 } };
      }
    });
  });

  METHODS.forEach(function (m) {
    const st = METHOD_STYLE[m];
    series.push({
      type: 'line', name: m, xAxisIndex: i, yAxisIndex: i,
      data: p.mean[m], symbol: 'none', showSymbol: false, silent: true, z: 2,
      color: st.color,
      itemStyle: { color: st.color },
      lineStyle: { color: st.color, width: 1.5, type: st.dash, opacity: st.opacity }
    });
  });

  // Log-axis ticks: long at powers of ten, short in between
  series.push({
    type: 'custom', xAxisIndex: i, yAxisIndex: i, silent: true, clip: false, z: 6,
    data: logTickValues(p.ylim),
    renderItem: function (params, api) {
      const pt = api.coord([0, api.value(1)]);
      const major = api.value(2) === 1;
      const len = major ? 3.5 : 2;
      return {
        type: 'line',
        shape: { x1: pt[0] - len, y1: pt[1], x2: pt[0], y2: pt[1] },
        style: { stroke: '#000', lineWidth: major ? 0.8 : 0.6 }
      };
    }
  });

  graphics.push({
    type: 'text', x: p.cap[0], y: p.cap[1], z: 10,
    style: {
      text: p.caption, fill: '#000', font: '24px "Liberation Serif"',
      textAlign: 'center', textVerticalAlign: 'middle', align: 'center', verticalAlign: 'middle'
    }
  });
});

// Legend frame behind the three legend columns
graphics.push({
  type: 'rect', z: 3,
  shape: { x: 97, y: 11.5, width: 239, height: 51.5, r: 2 },
  style: { fill: 'rgba(255,255,255,0.85)', stroke: '#cccccc', lineWidth: 0.8 }
});

// Legend entries show only the line sample (the point marker is hidden)
const legendBase = {
  orient: 'vertical', padding: 0, itemWidth: 16, itemHeight: 8, itemGap: 2.2,
  selectedMode: false, z: 4,
  itemStyle: { opacity: 0, borderWidth: 0 },
  lineStyle: { width: 1.5 },
  textStyle: { fontFamily: SERIF, fontSize: 8.5, color: '#222', lineHeight: 10 }
};

const chart = echarts.init(document.getElementById('chart'), null, { renderer: 'canvas' });
chart.setOption({
  animation: false,
  backgroundColor: '#ffffff',
  grid: grids,
  xAxis: xAxes,
  yAxis: yAxes,
  legend: [
    Object.assign({ data: METHODS.slice(0, 4), left: 99, top: 14 }, legendBase),
    Object.assign({ data: METHODS.slice(4, 8), left: 172, top: 14 }, legendBase),
    Object.assign({ data: METHODS.slice(8, 11), left: 284.5, top: 14 }, legendBase)
  ],
  graphic: { elements: graphics },
  series: series
});
</script>
</body>
</html>
